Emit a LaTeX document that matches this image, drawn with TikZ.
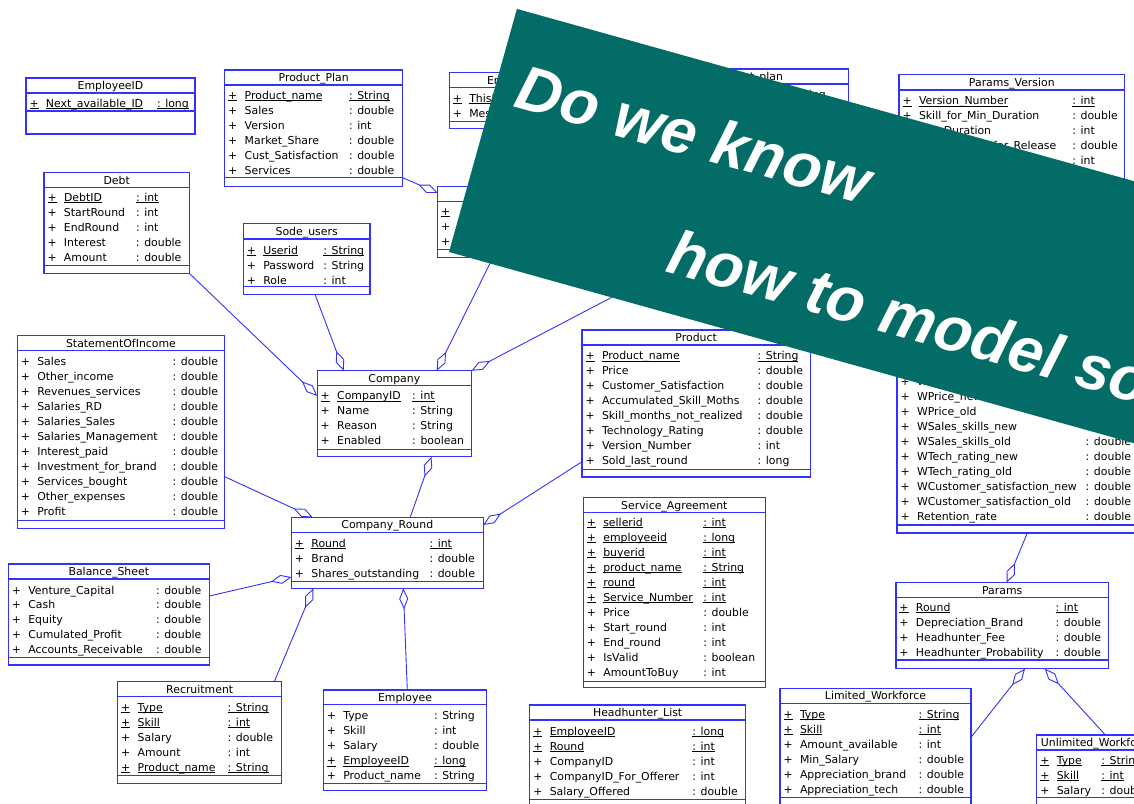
\documentclass[tikz,border=0pt]{standalone}
\usepackage{fontspec}
\setmainfont{DejaVu Sans}
\newfontfamily\bannerfont{Liberation Sans}
\usetikzlibrary{arrows.meta,calc}
\definecolor{umlblue}{RGB}{50,50,255}
\definecolor{bannerteal}{RGB}{4,108,102}

\newcommand\rowfont{\fontsize{10.9}{13}\selectfont}
% underlined text for key attributes
\newcommand\ulx[1]{\setbox0\hbox{#1}\rlap{\rule[-1.6pt]{\wd0}{0.7pt}}\box0}
\newcounter{lbl}

\tikzset{
  classframe/.style={draw=umlblue, line width=1.2pt, fill=white, inner sep=0pt, outer sep=0pt},
  classline/.style={draw=umlblue, line width=1.2pt},
  rowtxt/.style={anchor=base west, inner sep=0pt, outer sep=0pt, font=\rowfont, text=black},
  assoc/.style={draw=umlblue, line width=0.9pt, -{Diamond[open, length=21pt, width=9pt]}},
  bannertxt/.style={anchor=base west, inner sep=0pt, text=white,
    font=\bannerfont\bfseries\itshape\fontsize{63}{63}\selectfont, rotate=-15.6}
}

% class frame: name, left, top, right, header line, attribute line, bottom
\newcommand\frm[7]{%
  \node[classframe, anchor=north west, minimum width={#4-(#2)}, minimum height={#7-(#3)}] (#1) at (#2,#3) {};
  \draw[classline] (#2,#5) -- (#4,#5);
  \draw[classline] (#2,#6) -- (#4,#6);
}
% centred class title: left, right, top, header line, text
\newcommand\ttl[5]{\stepcounter{lbl}%
  \node[rowtxt, anchor=base] (t\arabic{lbl}) at ({(#1+#2)/2},{(#3+#4)/2+4}) {#5};}
% attribute row: left, type column, row y, name, type
\newcommand\arow[5]{\stepcounter{lbl}%
  \node[rowtxt] (r\arabic{lbl}) at ({#1+3.5},{#3+4})
    {\makebox[16.5pt][l]{+}\makebox[\dimexpr #2pt-#1pt-20pt\relax][l]{#4}#5};}
% key attribute row (underlined)
\newcommand\krow[5]{\stepcounter{lbl}%
  \node[rowtxt] (r\arabic{lbl}) at ({#1+3.5},{#3+4})
    {\makebox[16.5pt][l]{\ulx{+}}\makebox[\dimexpr #2pt-#1pt-20pt\relax][l]{\ulx{#4}}\ulx{#5}};}

\begin{document}
\begin{tikzpicture}[x={(1pt,0)}, y={(0,-1pt)}]
\useasboundingbox (0,0) rectangle (1134,803);
\begin{scope}
\clip (0,0) rectangle (1134,803);
\fill[white] (0,0) rectangle (1134,803);

% ---------- EmployeeID
\frm{empid}{26}{78}{195}{93}{111}{134}
\ttl{26}{195}{78}{93}{EmployeeID}
\krow{26}{157}{103}{Next\_available\_ID}{: long}

% ---------- Product_Plan
\frm{pplan}{224.7}{70}{402.7}{85}{177.7}{186.7}
\ttl{224.7}{402.7}{70}{85}{Product\_Plan}
\krow{224.7}{349}{95}{Product\_name}{: String}
\arow{224.7}{349}{110}{Sales}{: double}
\arow{224.7}{349}{125}{Version}{: int}
\arow{224.7}{349}{140}{Market\_Share}{: double}
\arow{224.7}{349}{155}{Cust\_Satisfaction}{: double}
\arow{224.7}{349}{170}{Services}{: double}

% ---------- Debt
\frm{debt}{44}{172.3}{189.3}{187.7}{265.7}{273.3}
\ttl{44}{189.3}{172.3}{187.7}{Debt}
\krow{44}{136}{197.3}{DebtID}{: int}
\arow{44}{136}{212.3}{StartRound}{: int}
\arow{44}{136}{227.3}{EndRound}{: int}
\arow{44}{136}{242.3}{Interest}{: double}
\arow{44}{136}{257.3}{Amount}{: double}

% ---------- Sode_users
\frm{sode}{243.3}{223.7}{370}{239}{286.7}{294.3}
\ttl{243.3}{370}{223.7}{239}{Sode\_users}
\krow{243.3}{323.3}{250}{Userid}{: String}
\arow{243.3}{323.3}{265}{Password}{: String}
\arow{243.3}{323.3}{280}{Role}{: int}

% ---------- StatementOfIncome
\frm{soi}{17.3}{335.7}{224.7}{350.7}{520.7}{528.3}
\ttl{17.3}{224.7}{335.7}{350.7}{StatementOfIncome}
\arow{17.3}{172.7}{361.7}{Sales}{: double}
\arow{17.3}{172.7}{376.7}{Other\_income}{: double}
\arow{17.3}{172.7}{391.7}{Revenues\_services}{: double}
\arow{17.3}{172.7}{406.7}{Salaries\_RD}{: double}
\arow{17.3}{172.7}{421.7}{Salaries\_Sales}{: double}
\arow{17.3}{172.7}{436.7}{Salaries\_Management}{: double}
\arow{17.3}{172.7}{451.7}{Interest\_paid}{: double}
\arow{17.3}{172.7}{466.7}{Investment\_for\_brand}{: double}
\arow{17.3}{172.7}{481.7}{Services\_bought}{: double}
\arow{17.3}{172.7}{496.7}{Other\_expenses}{: double}
\arow{17.3}{172.7}{511.7}{Profit}{: double}

% ---------- Company
\frm{company}{317.2}{370.7}{471.5}{385.7}{449.3}{456.7}
\ttl{317.2}{471.5}{370.7}{385.7}{Company}
\krow{317.2}{412.2}{395.7}{CompanyID}{: int}
\arow{317.2}{412.2}{410.7}{Name}{: String}
\arow{317.2}{412.2}{425.7}{Reason}{: String}
\arow{317.2}{412.2}{440.7}{Enabled}{: boolean}

% ---------- Product
\frm{product}{582}{330}{810.3}{345}{469.3}{477}
\ttl{582}{810.3}{330}{345}{Product}
\krow{582}{757.6}{355.7}{Product\_name}{: String}
\arow{582}{757.6}{370.7}{Price}{: double}
\arow{582}{757.6}{385.7}{Customer\_Satisfaction}{: double}
\arow{582}{757.6}{400.7}{Accumulated\_Skill\_Moths}{: double}
\arow{582}{757.6}{415.7}{Skill\_months\_not\_realized}{: double}
\arow{582}{757.6}{430.7}{Technology\_Rating}{: double}
\arow{582}{757.6}{445.7}{Version\_Number}{: int}
\arow{582}{757.6}{460.7}{Sold\_last\_round}{: long}

% ---------- Company_Round
\frm{cround}{291.4}{517.3}{483.2}{532.3}{581.7}{588.3}
\ttl{291.4}{483.2}{517.3}{532.3}{Company\_Round}
\krow{291.4}{429.5}{543.3}{Round}{: int}
\arow{291.4}{429.5}{558.3}{Brand}{: double}
\arow{291.4}{429.5}{573.3}{Shares\_outstanding}{: double}

% ---------- Balance_Sheet
\frm{bsheet}{8.3}{564}{209.3}{579}{657.3}{665}
\ttl{8.3}{209.3}{564}{579}{Balance\_Sheet}
\arow{8.3}{156}{590}{Venture\_Capital}{: double}
\arow{8.3}{156}{604.8}{Cash}{: double}
\arow{8.3}{156}{619.6}{Equity}{: double}
\arow{8.3}{156}{634.4}{Cumulated\_Profit}{: double}
\arow{8.3}{156}{649.2}{Accounts\_Receivable}{: double}

% ---------- Recruitment
\frm{recruit}{117.7}{681.7}{281.7}{696.7}{775.7}{783.3}
\ttl{117.7}{281.7}{681.7}{696.7}{Recruitment}
\krow{117.7}{227.7}{707}{Type}{: String}
\krow{117.7}{227.7}{722}{Skill}{: int}
\arow{117.7}{227.7}{737}{Salary}{: double}
\arow{117.7}{227.7}{752}{Amount}{: int}
\krow{117.7}{227.7}{767}{Product\_name}{: String}

% ---------- Employee
\frm{employee}{323.3}{690}{486.7}{704.7}{783.3}{790.7}
\ttl{323.3}{486.7}{690}{704.7}{Employee}
\arow{323.3}{434}{715.7}{Type}{: String}
\arow{323.3}{434}{730.7}{Skill}{: int}
\arow{323.3}{434}{745.7}{Salary}{: double}
\krow{323.3}{434}{760.7}{EmployeeID}{: long}
\arow{323.3}{434}{775.7}{Product\_name}{: String}

% ---------- Service_Agreement
\frm{service}{583.3}{497.3}{765.3}{512.7}{681.7}{687.3}
\ttl{583.3}{765.3}{497.3}{512.7}{Service\_Agreement}
\krow{583.3}{703.3}{522.3}{sellerid}{: int}
\krow{583.3}{703.3}{537.3}{employeeid}{: long}
\krow{583.3}{703.3}{552.3}{buyerid}{: int}
\krow{583.3}{703.3}{567.3}{product\_name}{: String}
\krow{583.3}{703.3}{582.3}{round}{: int}
\krow{583.3}{703.3}{597.3}{Service\_Number}{: int}
\arow{583.3}{703.3}{612.3}{Price}{: double}
\arow{583.3}{703.3}{627.3}{Start\_round}{: int}
\arow{583.3}{703.3}{642.3}{End\_round}{: int}
\arow{583.3}{703.3}{657.3}{IsValid}{: boolean}
\arow{583.3}{703.3}{672.3}{AmountToBuy}{: int}

% ---------- Params
\frm{params}{895.9}{582.7}{1108.5}{597.7}{660}{668.7}
\ttl{895.9}{1108.5}{582.7}{597.7}{Params}
\krow{895.9}{1055.6}{607.3}{Round}{: int}
\arow{895.9}{1055.6}{622.3}{Depreciation\_Brand}{: double}
\arow{895.9}{1055.6}{637.3}{Headhunter\_Fee}{: double}
\arow{895.9}{1055.6}{652.3}{Headhunter\_Probability}{: double}

% ---------- Headhunter_List
\frm{headhunter}{529.8}{705}{745.5}{720}{799.3}{812}
\ttl{529.8}{745.5}{705}{720}{Headhunter\_List}
\krow{529.8}{692.3}{731}{EmployeeID}{: long}
\krow{529.8}{692.3}{746}{Round}{: int}
\arow{529.8}{692.3}{761}{CompanyID}{: int}
\arow{529.8}{692.3}{776}{CompanyID\_For\_Offerer}{: int}
\arow{529.8}{692.3}{791}{Salary\_Offered}{: double}

% ---------- Limited_Workforce
\frm{limited}{780}{688.3}{971}{703.3}{797.7}{812}
\ttl{780}{971}{688.3}{703.3}{Limited\_Workforce}
\krow{780}{918.6}{714.3}{Type}{: String}
\krow{780}{918.6}{729.3}{Skill}{: int}
\arow{780}{918.6}{744.3}{Amount\_available}{: int}
\arow{780}{918.6}{759.3}{Min\_Salary}{: double}
\arow{780}{918.6}{774.3}{Appreciation\_brand}{: double}
\arow{780}{918.6}{789.3}{Appreciation\_tech}{: double}

% ---------- Unlimited_Workforce
\frm{unlimited}{1036.8}{735}{1158}{750}{797.7}{812}
\ttl{1036.8}{1158}{735}{750}{Unlimited\_Workforce}
\krow{1036.8}{1101.4}{760}{Type}{: String}
\krow{1036.8}{1101.4}{775}{Skill}{: int}
\arow{1036.8}{1101.4}{790}{Salary}{: double}

% ---------- Params_Version
\frm{pversion}{899}{74.7}{1124.7}{90}{183}{191}
\ttl{899}{1124.7}{74.7}{90}{Params\_Version}
\krow{899}{1072.3}{100.7}{Version\_Number}{: int}
\arow{899}{1072.3}{115.7}{Skill\_for\_Min\_Duration}{: double}
\arow{899}{1072.3}{130.7}{Min\_Duration}{: int}
\arow{899}{1072.3}{145.7}{Skill\_months\_for\_Release}{: double}
\arow{899}{1072.3}{160.7}{Max\_Duration}{: int}

% ---------- weights class (title behind the banner)
\frm{weights}{897}{300}{1150}{315}{525}{533}
\arow{897}{1085.7}{381.7}{WBrand\_old}{}
\arow{897}{1085.7}{396.7}{WPrice\_new}{}
\arow{897}{1085.7}{411.7}{WPrice\_old}{}
\arow{897}{1085.7}{426.7}{WSales\_skills\_new}{}
\arow{897}{1085.7}{441.7}{WSales\_skills\_old}{: double}
\arow{897}{1085.7}{456.7}{WTech\_rating\_new}{: double}
\arow{897}{1085.7}{471.7}{WTech\_rating\_old}{: double}
\arow{897}{1085.7}{486.7}{WCustomer\_satisfaction\_new}{: double}
\arow{897}{1085.7}{501.7}{WCustomer\_satisfaction\_old}{: double}
\arow{897}{1085.7}{516.7}{Retention\_rate}{: double}

% ---------- classes partly behind the banner
\frm{ebox}{449.3}{72.3}{640}{87.5}{121.7}{128.3}
\node[rowtxt] (etitle) at (487,84) {Errors};
\krow{449.3}{560}{98.3}{ThisID}{}
\arow{449.3}{560}{113.3}{Message}{}

\frm{xbox}{437.7}{186.7}{560}{201.7}{249.3}{257.3}
\krow{437.7}{520}{211}{}{}
\arow{437.7}{520}{226}{}{}
\arow{437.7}{520}{241}{}{}

\frm{rplan}{620}{69}{848.7}{84}{142}{150}
\node[rowtxt, anchor=base east] (rptitle) at (783,80.5) {Recruitment\_plan};
\node[rowtxt] (rptype) at (785,98) {: String};

% ---------- aggregations
\coordinate (farend) at (680,261.6);
\draw[assoc] (debt.south east) -- ([yshift=-25.3pt]company.north west);
\draw[assoc] ([xshift=71.7pt]sode.south west) -- ([xshift=26.5pt]company.north west);
\draw[assoc] ([xshift=55.3pt]xbox.south west) -- ([xshift=119.5pt]company.north west);
\draw[assoc] (farend) -- (company.north east);
\draw[assoc] ([yshift=9pt]pplan.south east) -- ([yshift=-6.3pt]xbox.north west);
\draw[assoc] ([xshift=118.8pt]cround.north west) -- ([xshift=114.3pt]company.south west);
\draw[assoc] ([yshift=51.6pt]soi.south east) -- ([xshift=21.3pt]cround.north west);
\draw[assoc] ([yshift=15.3pt]product.south west) -- ([yshift=-7.7pt]cround.north east);
\draw[assoc] ([yshift=-32pt]bsheet.north east) -- ([yshift=11.3pt]cround.south west);
\draw[assoc] ([xshift=156.6pt]recruit.north west) -- ([xshift=21.9pt]cround.south west);
\draw[assoc] ([xshift=84pt]employee.north west) -- ([xshift=111.9pt]cround.south west);
\draw[assoc] ([xshift=130.3pt]weights.south west) -- ([xshift=110.8pt]params.north west);
\draw[assoc] ([yshift=-49pt]limited.north east) -- ([xshift=129.1pt]params.south west);
\draw[assoc] ([xshift=68.6pt]unlimited.north west) -- ([xshift=148.8pt]params.south west);

% ---------- banner
\fill[bannerteal] (516.9,8.9) -- (449,252) -- (1412.2,520.9) -- (1480.1,277.8) -- cycle;
\node[bannertxt] (line1) at (512.7,106.7) {Do we know};
\node[bannertxt] (line2) at (664,271) {how to model so};
\end{scope}
\end{tikzpicture}
\end{document}
